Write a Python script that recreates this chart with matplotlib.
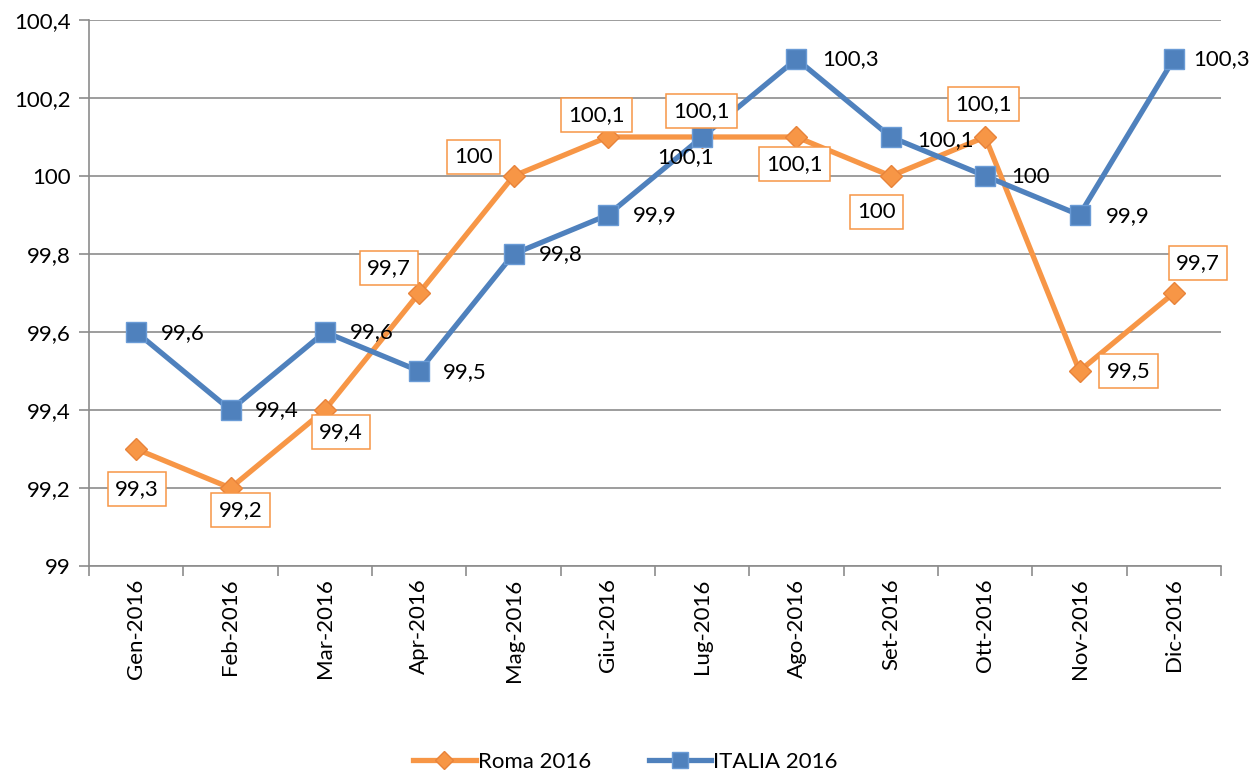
import matplotlib
matplotlib.use("Agg")
import matplotlib.pyplot as plt
from matplotlib.ticker import FixedLocator, FuncFormatter

months = ["Gen-2016", "Feb-2016", "Mar-2016", "Apr-2016", "Mag-2016", "Giu-2016",
          "Lug-2016", "Ago-2016", "Set-2016", "Ott-2016", "Nov-2016", "Dic-2016"]
roma = [99.3, 99.2, 99.4, 99.7, 100.0, 100.1, 100.1, 100.1, 100.0, 100.1, 99.5, 99.7]
italia = [99.6, 99.4, 99.6, 99.5, 99.8, 99.9, 100.1, 100.3, 100.1, 100.0, 99.9, 100.3]
yticks = [99.0, 99.2, 99.4, 99.6, 99.8, 100.0, 100.2, 100.4]

# label offsets in pixels (layout only)
roma_off = [(1, -40), (10, -22), (16, -22), (-30, 25), (-40, 19), (-11, 22),
            (-1, 26), (-2, -27), (-14, -36), (-2, 33), (49, 0), (24, 30)]
ita_off = [(47, -1), (46, 0), (47, 0), (46, -1), (47, 0), (47, 0),
           (-17, -20), (54, 0), (55, -3), (45, -1), (48, -1), (48, 0)]

plt.rcParams['font.family'] = ['Lato', 'DejaVu Sans']

ORANGE = "#F79646"
ORANGE_E = "#E8833A"
BLUE = "#4F81BD"
BLUE_E = "#6A9BD6"
GRID = "#8C8C8C"
FS = 16

def fmt(v):
    s = ("%.1f" % v)
    if s.endswith(".0"):
        s = s[:-2]
    return s.replace(".", ",")

fig = plt.figure(figsize=(12.51, 7.73), dpi=100)
ax = fig.add_axes([89/1251, 1-566/773, (1221-89)/1251, (566-20)/773])

x = list(range(len(months)))
ax.plot(x, roma, color=ORANGE, lw=3.8, marker='D', ms=11, mfc=ORANGE, mec=ORANGE_E,
        mew=1, label="Roma 2016", zorder=3, solid_joinstyle='round')
ax.plot(x, italia, color=BLUE, lw=3.8, marker='s', ms=14, mfc=BLUE, mec=BLUE_E,
        mew=1, label="ITALIA 2016", zorder=3, solid_joinstyle='round')

for i, v in enumerate(roma):
    ax.annotate(fmt(v), (i, v), xytext=roma_off[i], textcoords='offset pixels',
                ha='center', va='center', fontsize=FS, color='black', zorder=5,
                bbox=dict(boxstyle='square,pad=0.33', fc='white', ec=ORANGE, lw=1.1))
for i, v in enumerate(italia):
    ax.annotate(fmt(v), (i, v), xytext=ita_off[i], textcoords='offset pixels',
                ha='center', va='center', fontsize=FS, color='black', zorder=5)

ax.set_xlim(-0.5, len(months) - 0.5)
ax.set_ylim(99.0, 100.4)
ax.yaxis.set_major_locator(FixedLocator(yticks))
ax.yaxis.set_major_formatter(FuncFormatter(lambda v, p: fmt(v)))
ax.set_xticks(x)
ax.set_xticklabels(months, rotation=90, fontsize=FS)
ax.xaxis.set_minor_locator(FixedLocator([i - 0.5 for i in range(len(months) + 1)]))
ax.tick_params(axis='x', which='major', length=0, pad=9)
ax.tick_params(axis='x', which='minor', length=7, color=GRID, width=1.2)
ax.tick_params(axis='y', length=7, color=GRID, width=1.2, labelsize=FS, pad=6)

ax.grid(axis='y', color=GRID, lw=1.2, zorder=0)
ax.set_axisbelow(True)
for s in ['top', 'right']:
    ax.spines[s].set_visible(False)
for s in ['left', 'bottom']:
    ax.spines[s].set_color(GRID)
    ax.spines[s].set_linewidth(1.2)

fig.legend(loc='lower center', bbox_to_anchor=(0.5, 0.0), ncol=2, frameon=False,
           fontsize=FS, handlelength=2.8, columnspacing=2.6, handletextpad=0.1,
           markerscale=0.8, borderpad=0.05, borderaxespad=0.0)

fig.savefig("out.png", dpi=100)
